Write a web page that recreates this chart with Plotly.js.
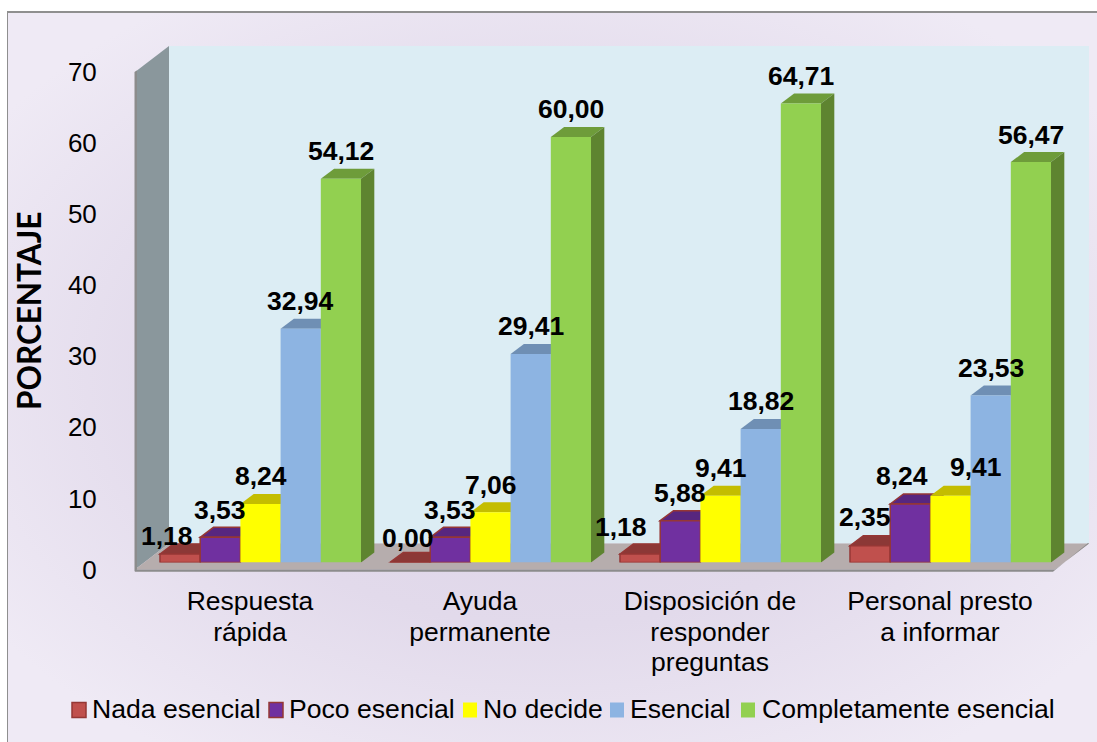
<!DOCTYPE html>
<html><head><meta charset="utf-8">
<script src="https://cdn.plot.ly/plotly-3.0.1.min.js"></script>
<style>
html,body{margin:0;padding:0;background:#fff;}
#frame{position:absolute;left:7px;top:11px;width:1090px;height:731px;box-sizing:border-box;border-top:2px solid #8f8f8f;border-left:1.5px solid #8f8f8f;
background:radial-gradient(ellipse 62% 62% at 50% 50%,#dcd2e7 0%,#e2daeb 55%,#efeaf5 100%);}
#chart{position:absolute;left:0;top:0;width:1097px;height:742px;}
</style></head><body>
<div id="frame"></div><div id="chart"></div>
<script>
const categories=["Respuesta<br>rápida","Ayuda<br>permanente","Disposición de<br>responder<br>preguntas","Personal presto<br>a informar"];
const seriesNames=["Nada esencial","Poco esencial","No decide","Esencial","Completamente esencial"];
const nadaEsencial=[1.18,0,1.18,2.35];
const pocoEsencial=[3.53,3.53,5.88,8.24];
const noDecide=[8.24,7.06,9.41,9.41];
const esencial=[32.94,29.41,18.82,23.53];
const completamente=[54.12,60.00,64.71,56.47];
const yTicks=[0,10,20,30,40,50,60,70];

const seriesValues=[nadaEsencial,pocoEsencial,noDecide,esencial,completamente];
const frontColors=["#c0504d","#7030a0","#ffff00","#8db4e2","#92d050"];
const topColors=["#8c3836","#57267f","#c4bd00","#6f8fb4","#6e9c3a"];
const sideColors=["#7a2f2d","#4a2070","#a8a200","#5f7fa6","#5e8430"];
const outlineColors=["#953735","#953735",null,null,null];

const W=1097,H=742;
const frontL=135,frontR=1055,y0=569.5,y70=72;
const dxWall=34,dyWall=26;
const barL=145.5,barR=1065.5,barY0=562.4,pxPerUnit=7.09;
const bargap=0.126;
const depthX=13.3,depthY=10;
const fx=p=>p/W, fy=p=>1-p/H;

const xUnitPx=(barR-barL)/4;
const slot=(1-bargap)/5;
const ddx=depthX/xUnitPx, ddy=depthY/pxPerUnit;

const traces=[{type:"scatter",mode:"none",x:[0,1,2,3],y:[0,0,0,0],xaxis:"x",yaxis:"y",showlegend:false,hoverinfo:"skip"}].concat(seriesNames.map((n,i)=>({
  type:"bar",name:n,x:[0,1,2,3],y:seriesValues[i],xaxis:"x2",yaxis:"y2",
  marker:{color:frontColors[i],line:{color:outlineColors[i]||frontColors[i],width:outlineColors[i]?1.5:0}},
  showlegend:false,hoverinfo:"y+name"
})));

const poly=(pts,fill,line,lw)=>({type:"path",xref:"paper",yref:"paper",layer:"below",
  path:"M"+pts.map(p=>fx(p[0])+","+fy(p[1])).join("L")+"Z",fillcolor:fill,line:{color:line||fill,width:lw||0}});
const shapes=[
  poly([[frontL+dxWall,y70-dyWall],[frontR+dxWall,y70-dyWall],[frontR+dxWall,y0-dyWall],[frontL+dxWall,y0-dyWall]],"#dcedf4"),
  poly([[frontL,y70],[frontL+dxWall,y70-dyWall],[frontL+dxWall,y0-dyWall],[frontL,y0]],"#8a979c"),
  poly([[frontL+dxWall,y0-dyWall],[frontR+dxWall,y0-dyWall],[frontR,y0],[frontL,y0]],"#b6adad"),
  poly([[frontL,y0],[frontR,y0],[frontR+dxWall,y0-dyWall],[frontR+dxWall-1,y0-dyWall-0.5],[frontR-2,y0+2.2],[frontL,y0+2.2]],"#8c8c8c"),
  poly([[frontL-0.5,y70],[frontL+2,y70-1.5],[frontL+2,y0],[frontL-0.5,y0+2]],"#8c8c8c")
];
seriesNames.forEach((n,i)=>{
  seriesValues[i].forEach((v,c)=>{
    const l=c-(1-bargap)/2+i*slot, r=l+slot;
    const lc=outlineColors[i]||topColors[i], lw=outlineColors[i]?1.5:0;
    shapes.push({type:"path",xref:"x2",yref:"y2",layer:"below",
      path:`M${l},${v}L${l+ddx},${v+ddy}L${r+ddx},${v+ddy}L${r},${v}Z`,fillcolor:topColors[i],line:{color:lc,width:lw}});
    if(v>0) shapes.push({type:"path",xref:"x2",yref:"y2",layer:"below",
      path:`M${r},0L${r+ddx},${ddy}L${r+ddx},${v+ddy}L${r},${v}Z`,fillcolor:sideColors[i],line:{color:sideColors[i],width:0}});
  });
});

const labelFont={family:"Liberation Sans, Arial, sans-serif",size:26.5,color:"#000"};
const labelNudge={"0,0":[-13,-9],"0,1":[-2,-3],"0,2":[-19,0],"0,3":[-5,1],"1,3":[-8,0],"2,3":[25,1]};
const annotations=[];
seriesNames.forEach((n,i)=>{
  seriesValues[i].forEach((v,c)=>{
    const l=c-(1-bargap)/2+i*slot;
    const nudge=labelNudge[i+","+c]||[0,0];
    annotations.push({xref:"x2",yref:"y2",x:l+slot/2,y:v,text:"<b>"+v.toFixed(2).replace(".",",")+"</b>",showarrow:false,
      xanchor:"center",yanchor:"middle",xshift:nudge[0],yshift:27.5+nudge[1],font:labelFont});
  });
});
const legendItems=[[72,90],[269,287],[463,481],[610,628],[741,760]];
const legendFont={family:"Liberation Sans, Arial, sans-serif",size:26.6,color:"#000"};
seriesNames.forEach((n,i)=>{
  const [sx,tx]=legendItems[i];
  shapes.push({type:"rect",xref:"paper",yref:"paper",layer:"above",x0:fx(sx),x1:fx(sx+14),y0:fy(710+7.5),y1:fy(710-7.5),
    fillcolor:frontColors[i],line:{color:outlineColors[i]||frontColors[i],width:outlineColors[i]?1.5:0}});
  annotations.push({xref:"paper",yref:"paper",x:fx(tx),y:fy(709),xanchor:"left",yanchor:"middle",showarrow:false,text:n,font:legendFont});
});
annotations.push({xref:"paper",yref:"paper",x:fx(29),y:fy(311),xanchor:"center",yanchor:"middle",showarrow:false,textangle:-90,
  text:"<b>PORCENTAJE</b>",font:{family:"Lato, sans-serif",size:31.5,color:"#000"}});

const layout={
  width:W,height:H,margin:{l:0,r:0,t:0,b:0,autoexpand:false},
  paper_bgcolor:"rgba(0,0,0,0)",plot_bgcolor:"rgba(0,0,0,0)",
  showlegend:false,barmode:"group",bargap:bargap,bargroupgap:0,
  font:{family:"Liberation Sans, Arial, sans-serif",color:"#000"},
  xaxis:{domain:[fx(frontL),fx(frontR)],range:[-0.5,3.5],type:"linear",tickmode:"array",tickvals:[0,1,2,3],ticktext:categories,
    ticks:"outside",ticklen:8,tickcolor:"rgba(0,0,0,0)",showgrid:false,zeroline:false,showline:false,tickfont:{size:26.5,color:"#000"},anchor:"y",automargin:false},
  yaxis:{domain:[fy(y0),fy(y70)],range:[0,70],tickmode:"array",tickvals:yTicks,
    ticks:"outside",ticklen:32,tickcolor:"rgba(0,0,0,0)",showgrid:false,zeroline:false,showline:false,tickfont:{size:26,color:"#000"},anchor:"x",automargin:false},
  xaxis2:{domain:[fx(barL),fx(barR)],range:[-0.5,3.5],anchor:"y2",visible:false,fixedrange:true},
  yaxis2:{domain:[fy(barY0),fy(barY0-70*pxPerUnit)],range:[0,70],anchor:"x2",visible:false,fixedrange:true},
  shapes:shapes,annotations:annotations
};
Plotly.newPlot("chart",traces,layout,{displayModeBar:false,staticPlot:true}).then(()=>{
  document.querySelectorAll(".xtick text").forEach(t=>{
    t.querySelectorAll("tspan.line").forEach((ln,k)=>ln.setAttribute("dy",(k*1.15)+"em"));
  });
});
</script></body></html>
